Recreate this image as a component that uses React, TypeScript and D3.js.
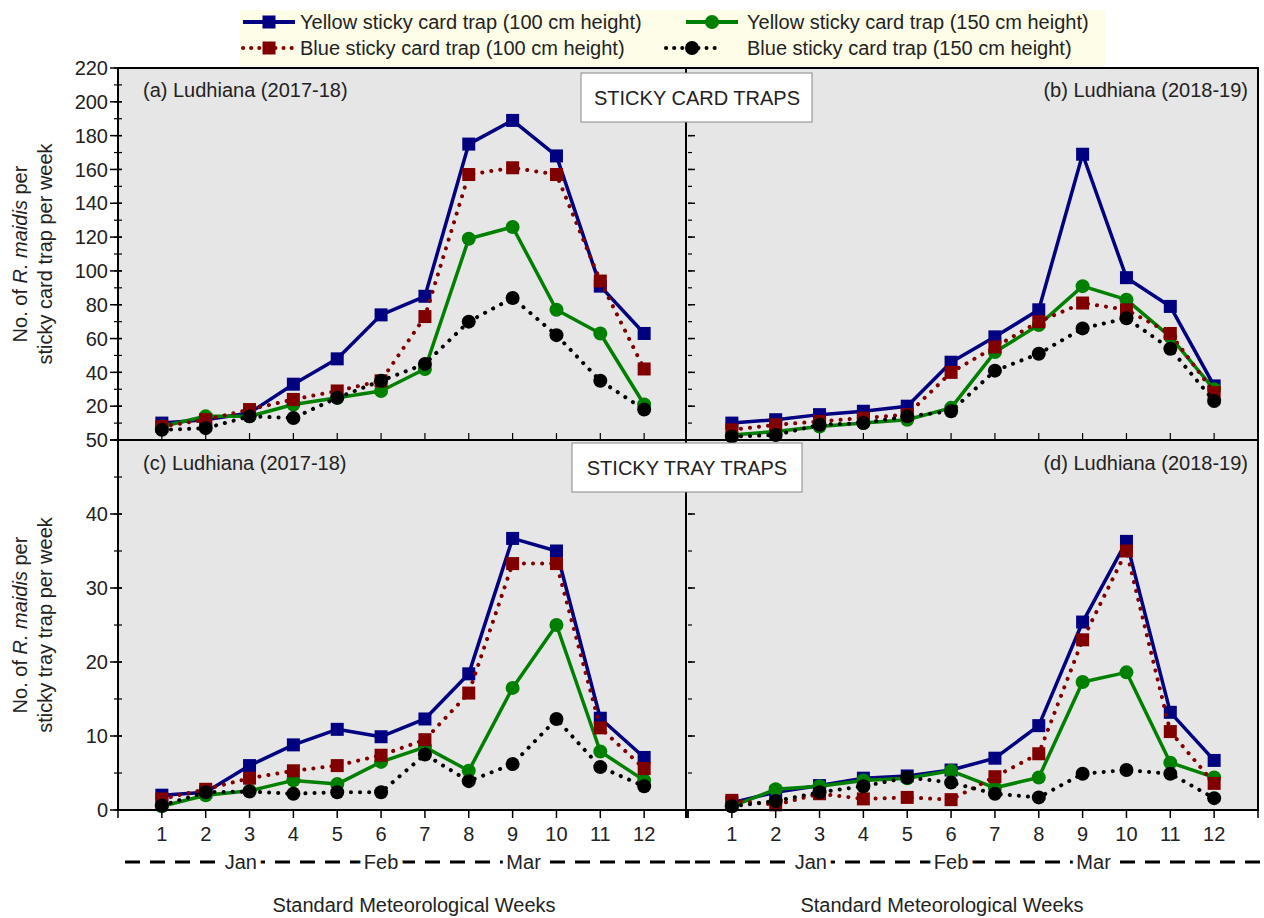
import React from 'react';
import * as d3 from 'd3';

// weeks on the x axis
const WEEKS = [1, 2, 3, 4, 5, 6, 7, 8, 9, 10, 11, 12];
const MONTHS = ['Jan', 'Feb', 'Mar'];

// sticky card traps, Ludhiana 2017-18
const CARD_A_Y100 = [10, 12, 16, 33, 48, 74, 85, 175, 189, 168, 91, 63];
const CARD_A_B100 = [8, 12, 18, 24, 29, 35, 73, 157, 161, 157, 94, 42];
const CARD_A_Y150 = [8, 14, 14, 21, 25, 29, 42, 119, 126, 77, 63, 21];
const CARD_A_B150 = [6, 7, 14, 13, 25, 35, 45, 70, 84, 62, 35, 18];

// sticky card traps, Ludhiana 2018-19
const CARD_B_Y100 = [10, 12, 15, 17, 20, 46, 61, 77, 169, 96, 79, 32];
const CARD_B_B100 = [6, 9, 11, 13, 15, 40, 55, 70, 81, 77, 63, 28];
const CARD_B_Y150 = [3, 5, 8, 10, 12, 19, 52, 68, 91, 83, 61, 30];
const CARD_B_B150 = [2, 3, 9, 10, 14, 17, 41, 51, 66, 72, 54, 23];

// sticky tray traps, Ludhiana 2017-18
const TRAY_C_Y100 = [2, 2.4, 6, 8.8, 10.9, 9.9, 12.3, 18.4, 36.7, 35, 12.4, 7.1];
const TRAY_C_B100 = [1.5, 2.8, 4.3, 5.3, 6, 7.4, 9.5, 15.8, 33.3, 33.3, 11.1, 5.6];
const TRAY_C_Y150 = [0.5, 2, 2.6, 4, 3.5, 6.5, 8.5, 5.3, 16.5, 25, 7.9, 4];
const TRAY_C_B150 = [0.6, 2.4, 2.5, 2.2, 2.4, 2.4, 7.5, 3.9, 6.2, 12.3, 5.8, 3.2];

// sticky tray traps, Ludhiana 2018-19
const TRAY_D_Y100 = [1, 2.4, 3.3, 4.3, 4.6, 5.4, 7, 11.4, 25.4, 36.3, 13.2, 6.7];
const TRAY_D_B100 = [1.3, 0.7, 2.2, 1.5, 1.7, 1.4, 4.5, 7.6, 23, 35, 10.6, 3.6];
const TRAY_D_Y150 = [0.5, 2.8, 3.2, 4, 4.3, 5.3, 3, 4.4, 17.3, 18.6, 6.4, 4.4];
const TRAY_D_B150 = [0.5, 1.2, 2.4, 3.2, 4.4, 3.7, 2.2, 1.7, 4.9, 5.4, 4.9, 1.6];

const FONT = '"Liberation Sans Narrow", "Arial Narrow", "Liberation Sans", Arial, sans-serif';

const LEFT = 118, MID = 688, RIGHT = 1258;
const TOP = 68, SPLIT = 440, BOTTOM = 810;
const PW = 570;

// draw order: navy, green, red, black
const STYLES = [
  { name: 'Yellow sticky card trap (100 cm height)', color: '#000080', dotted: false, marker: 'square' },
  { name: 'Yellow sticky card trap (150 cm height)', color: '#008000', dotted: false, marker: 'circle' },
  { name: 'Blue sticky card trap (100 cm height)', color: '#800000', dotted: true, marker: 'square' },
  { name: 'Blue sticky card trap (150 cm height)', color: '#000000', dotted: true, marker: 'circle' },
];

const yTop = d3.scaleLinear().domain([0, 220]).range([SPLIT, TOP]);
const yBot = d3.scaleLinear().domain([0, 50]).range([BOTTOM, SPLIT]);

function Marker({ cx, cy, type, color }: any) {
  if (type === 'square') return <rect x={cx - 6.5} y={cy - 6.5} width={13} height={13} fill={color} />;
  return <circle cx={cx} cy={cy} r={7} fill={color} />;
}

function Panel({ x0, y, series }: any) {
  const x = d3.scaleLinear().domain([0, 13]).range([x0, x0 + PW]);
  return (
    <g>
      {series.map((vals: number[], si: number) => {
        const st = STYLES[si];
        const line = d3.line<number>().x((_, i) => x(WEEKS[i])).y(d => y(d));
        return (
          <g key={si}>
            <path d={line(vals) || ''} fill="none" stroke={st.color}
              strokeWidth={st.dotted ? 4 : 3.5}
              strokeDasharray={st.dotted ? '0.1 9' : undefined}
              strokeLinecap={st.dotted ? 'round' : 'butt'} strokeLinejoin="round" />
            {vals.map((v, i) => (
              <Marker key={i} cx={x(WEEKS[i])} cy={y(v)} type={st.marker} color={st.color} />
            ))}
          </g>
        );
      })}
    </g>
  );
}

function XAxis({ x0, titleShift }: any) {
  const x = d3.scaleLinear().domain([0, 13]).range([x0, x0 + PW]);
  const ticks = x.ticks(13);
  return (
    <g>
      {ticks.map(t => (
        <g key={t}>
          <line x1={x(t)} x2={x(t)} y1={BOTTOM} y2={BOTTOM + 8} stroke="#000" strokeWidth={1.5} />
          {t > 0 && t < 13 && (
            <line x1={x(t)} x2={x(t)} y1={SPLIT - 7} y2={SPLIT} stroke="#000" strokeWidth={1.2} />
          )}
        </g>
      ))}
      {WEEKS.map(w => (
        <text key={w} x={x(w)} y={841} textAnchor="middle" fontSize={20} fill="#222">{w}</text>
      ))}
      <line x1={x0 + 7} x2={x0 + PW + 12} y1={862} y2={862} stroke="#000" strokeWidth={3} strokeDasharray="15 10" />
      {MONTHS.map((m, i) => (
        <text key={m} x={x([2.8, 6.0, 9.25][i])} y={869} textAnchor="middle" fontSize={20} fill="#222"
          stroke="#fff" strokeWidth={10} paintOrder="stroke">{m}</text>
      ))}
      <text x={x0 + PW / 2 + titleShift} y={912} textAnchor="middle" fontSize={20} fill="#222">Standard Meteorological Weeks</text>
    </g>
  );
}

function YTicks({ ax, y, major, minor, labels, skipZero, outward }: any) {
  return (
    <g>
      {y.ticks(minor).map((t: number) => (
        <line key={'m' + t} x1={ax - (outward ? 4 : 0)} x2={ax + 4} y1={y(t)} y2={y(t)} stroke="#000" strokeWidth={1.2} />
      ))}
      {y.ticks(major).map((t: number) => (
        <g key={'M' + t}>
          <line x1={ax - (outward ? 8 : 0)} x2={ax + (outward ? 4 : 7)} y1={y(t)} y2={y(t)} stroke="#000" strokeWidth={1.5} />
          {labels && !(skipZero && t === 0) && (
            <text x={ax - 10} y={y(t)} dy="0.36em" textAnchor="end" fontSize={20} fill="#222">{t}</text>
          )}
        </g>
      ))}
    </g>
  );
}

function YTitle({ cy, second }: any) {
  return (
    <g transform={`translate(0,${cy}) rotate(-90)`}>
      <text x={0} y={27} textAnchor="middle" fontSize={20} fill="#222">
        No. of <tspan fontStyle="italic">R. maidis</tspan> per
      </text>
      <text x={0} y={52} textAnchor="middle" fontSize={20} fill="#222">{second}</text>
    </g>
  );
}

function Legend() {
  const rows = [22, 48];
  const cols = [
    { lx: 243, tx: 300 },
    { lx: 686, tx: 747 },
  ];
  return (
    <g>
      <rect x={240} y={10} width={866} height={56} fill="#fdfde8" />
      {STYLES.map((st, i) => {
        const c = cols[i % 2];
        const r = rows[i < 2 ? 0 : 1];
        const lx = st.dotted && i === 3 ? c.lx - 20 : c.lx;
        return (
          <g key={i}>
            <line x1={lx} x2={lx + 52} y1={r} y2={r} stroke={st.color}
              strokeWidth={4}
              strokeDasharray={st.dotted ? '0.1 8' : undefined}
              strokeLinecap={st.dotted ? 'round' : 'butt'} />
            <Marker cx={lx + 26} cy={r} type={st.marker} color={st.color} />
            <text x={c.tx} y={r} dy="0.36em" fontSize={20} fill="#222">{st.name}</text>
          </g>
        );
      })}
    </g>
  );
}

export default function App() {
  return (
    <div style={{ position: 'absolute', left: 0, top: 0 }}>
      <svg width={1264} height={918} style={{ display: 'block', fontFamily: FONT, background: '#fff' }}>
        <Legend />
        <rect x={LEFT} y={TOP} width={RIGHT - LEFT} height={BOTTOM - TOP} fill="#e6e6e6" />

        <Panel x0={LEFT} y={yTop} series={[CARD_A_Y100, CARD_A_Y150, CARD_A_B100, CARD_A_B150]} />
        <Panel x0={MID} y={yTop} series={[CARD_B_Y100, CARD_B_Y150, CARD_B_B100, CARD_B_B150]} />
        <Panel x0={LEFT} y={yBot} series={[TRAY_C_Y100, TRAY_C_Y150, TRAY_C_B100, TRAY_C_B150]} />
        <Panel x0={MID} y={yBot} series={[TRAY_D_Y100, TRAY_D_Y150, TRAY_D_B100, TRAY_D_B150]} />

        <rect x={LEFT} y={TOP} width={RIGHT - LEFT} height={SPLIT - TOP} fill="none" stroke="#000" strokeWidth={2} />
        <rect x={LEFT} y={SPLIT} width={RIGHT - LEFT} height={BOTTOM - SPLIT} fill="none" stroke="#000" strokeWidth={2} />
        <line x1={MID - 2} x2={MID - 2} y1={TOP} y2={BOTTOM + 8} stroke="#000" strokeWidth={2} />

        <YTicks ax={LEFT} y={yTop} major={11} minor={22} labels skipZero outward />
        <YTicks ax={LEFT} y={yBot} major={5} minor={10} labels outward />
        <YTicks ax={MID} y={yTop} major={11} minor={22} />
        <YTicks ax={MID} y={yBot} major={5} minor={10} />

        <XAxis x0={LEFT} titleShift={11} />
        <XAxis x0={MID} titleShift={-31} />

        <text x={143} y={97} fontSize={20} fill="#222">(a) Ludhiana (2017-18)</text>
        <text x={1248} y={97} fontSize={20} fill="#222" textAnchor="end">(b) Ludhiana (2018-19)</text>
        <text x={143} y={470} fontSize={20} fill="#222">(c) Ludhiana (2017-18)</text>
        <text x={1248} y={470} fontSize={20} fill="#222" textAnchor="end">(d) Ludhiana (2018-19)</text>

        <rect x={581} y={73} width={231} height={49} fill="#fff" stroke="#888" strokeWidth={1} />
        <text x={697} y={98} dy="0.36em" fontSize={20} fill="#222" textAnchor="middle">STICKY CARD TRAPS</text>
        <rect x={572} y={443} width={230} height={49} fill="#fff" stroke="#888" strokeWidth={1} />
        <text x={687} y={468} dy="0.36em" fontSize={20} fill="#222" textAnchor="middle">STICKY TRAY TRAPS</text>

        <YTitle cy={254} second="sticky card trap per week" />
        <YTitle cy={625} second="sticky tray trap per week" />
      </svg>
    </div>
  );
}
